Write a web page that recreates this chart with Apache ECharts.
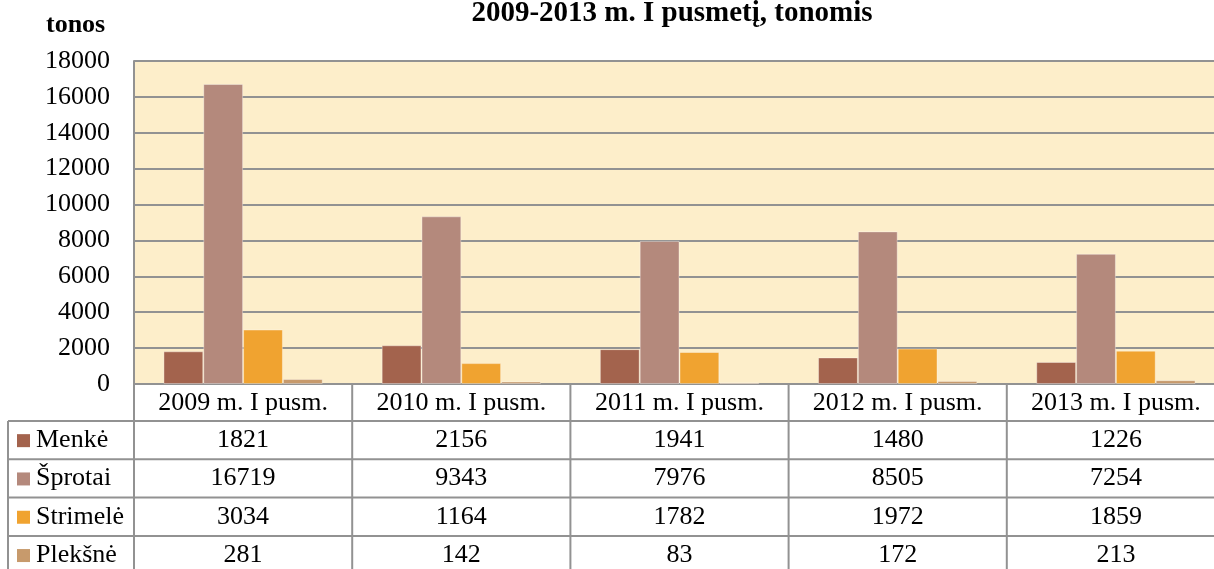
<!DOCTYPE html>
<html>
<head>
<meta charset="utf-8">
<title>Žvejyba 2009-2013</title>
<script src="https://cdn.jsdelivr.net/npm/echarts@6/dist/echarts.min.js"></script>
<style>
  html, body { margin: 0; padding: 0; background: #fff; }
  #chart { width: 1214px; height: 569px; }
</style>
</head>
<body>
<div id="chart"></div>
<script>
var categories = ['2009 m. I pusm.', '2010 m. I pusm.', '2011 m. I pusm.', '2012 m. I pusm.', '2013 m. I pusm.'];
var seriesNames = ['Menkė', 'Šprotai', 'Strimelė', 'Plekšnė'];
var menke = [1821, 2156, 1941, 1480, 1226];
var sprotai = [16719, 9343, 7976, 8505, 7254];
var strimele = [3034, 1164, 1782, 1972, 1859];
var pleksne = [281, 142, 83, 172, 213];
var colors = ['#A3634D', '#B4897C', '#F0A330', '#C79A6C'];

var FONT = '"Liberation Serif", "Times New Roman", serif';
var FS = 26;
var LINE = '#929292';
var values = [menke, sprotai, strimele, pleksne];

var chart = echarts.init(document.getElementById('chart'));

var series = seriesNames.map(function (name, i) {
    return {
        name: name,
        type: 'bar',
        data: values[i],
        barGap: '0%',
        barCategoryGap: '27%',
        itemStyle: {
            color: colors[i],
            borderColor: 'rgba(255,255,255,0.35)',
            borderWidth: 1
        },
        emphasis: { disabled: true }
    };
});

chart.setOption({
    animation: false,
    grid: {
        left: 134, top: 61, right: -11, bottom: 185,
        outerBoundsMode: 'none',
        containLabel: false,
        show: true, backgroundColor: '#FDEECA', borderWidth: 0
    },
    title: {
        text: '2009-2013 m. I pusmetį, tonomis',
        left: 667, top: -6,
        textAlign: 'center',
        textStyle: { fontFamily: FONT, fontSize: 29, fontWeight: 'bold', color: '#000' }
    },
    xAxis: {
        type: 'category',
        data: categories,
        axisLine: { lineStyle: { color: LINE, width: 2 } },
        axisTick: { show: false },
        axisLabel: { interval: 0, margin: 6, fontFamily: FONT, fontSize: FS, color: '#000' }
    },
    yAxis: {
        type: 'value',
        min: 0, max: 18000, interval: 2000,
        name: 'tonos',
        nameLocation: 'end',
        nameGap: 23,
        nameTextStyle: { fontFamily: FONT, fontSize: FS, fontWeight: 'bold', color: '#000', align: 'left', padding: [0, 0, 0, -88] },
        axisLine: { show: true, lineStyle: { color: LINE, width: 2 } },
        axisTick: { show: false },
        splitLine: { lineStyle: { color: LINE, width: 2 } },
        axisLabel: {
            margin: 24, fontFamily: FONT, fontSize: FS, color: '#000',
            formatter: function (v) { return String(v); }
        }
    },
    series: series
});

// data table under the plot
var x0 = chart.convertToPixel({ xAxisIndex: 0 }, 0);
var x1 = chart.convertToPixel({ xAxisIndex: 0 }, 1);
var band = x1 - x0;
var plotLeft = x0 - band / 2;
var plotRight = plotLeft + band * categories.length;
var headTop = chart.convertToPixel({ yAxisIndex: 0 }, 0);
var headBottom = headTop + 37;
var rowH = 38.3;
var tableLeft = 8;
var tableBottom = headBottom + rowH * seriesNames.length;

var g = [];
function line(xa, ya, xb, yb) {
    g.push({ type: 'line', shape: { x1: xa, y1: ya, x2: xb, y2: yb }, style: { stroke: LINE, lineWidth: 2 }, z: 10 });
}
for (var c = 0; c <= categories.length; c++) {
    var xx = plotLeft + band * c;
    line(xx, headTop, xx, tableBottom);
}
line(tableLeft, headBottom, tableLeft, tableBottom);
for (var r = 0; r <= seriesNames.length; r++) {
    var yy = headBottom + rowH * r;
    line(tableLeft, yy, plotRight, yy);
}
seriesNames.forEach(function (name, i) {
    var cy = headBottom + rowH * i + rowH / 2;
    g.push({ type: 'rect', shape: { x: 17, y: cy - 6, width: 13, height: 13 }, style: { fill: colors[i] }, z: 10 });
    g.push({ type: 'text', x: 36, y: cy, style: { text: name, font: FS + 'px ' + FONT, fill: '#000', verticalAlign: 'middle', align: 'left' }, z: 10 });
    values[i].forEach(function (v, j) {
        g.push({ type: 'text', x: plotLeft + band * j + band / 2, y: cy, style: { text: String(v), font: FS + 'px ' + FONT, fill: '#000', verticalAlign: 'middle', align: 'center' }, z: 10 });
    });
});
chart.setOption({ graphic: g });
</script>
</body>
</html>
